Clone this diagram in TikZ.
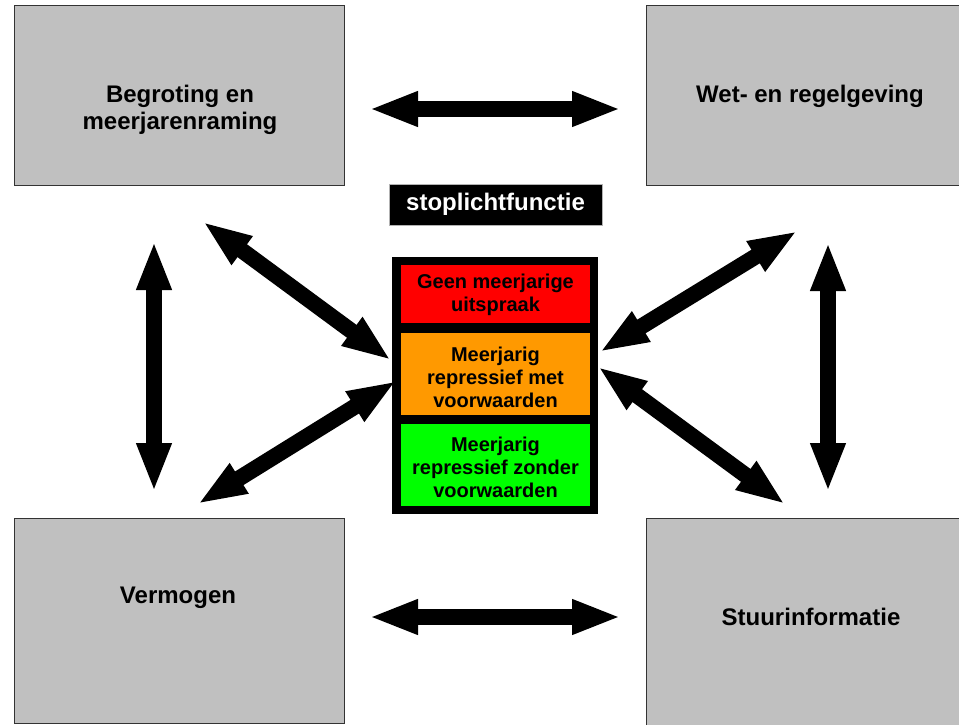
\documentclass[tikz,border=0pt]{standalone}
\usepackage{fontspec}
\setmainfont{Liberation Sans}
\usetikzlibrary{arrows.meta}
\definecolor{boxgray}{HTML}{C0C0C0}
\definecolor{lightred}{HTML}{FF0000}
\definecolor{lightorange}{HTML}{FF9900}
\definecolor{lightgreen}{HTML}{00FF00}
\begin{document}
\begin{tikzpicture}[x=1pt,y=-1pt,
  grbox/.style={draw=black!80, line width=1pt, fill=boxgray, inner sep=0pt, outer sep=0pt, minimum width=330pt},
  boxlabel/.style={font=\fontsize{24}{27.6}\selectfont\bfseries, align=center, text=black, inner sep=0pt},
  lamp/.style={inner sep=0pt, outer sep=0pt, minimum width=189pt},
  lamplabel/.style={font=\fontsize{20}{23}\selectfont\bfseries, align=center, text=black, inner sep=0pt},
  bigarrow/.style={line width=16pt, shorten <=-4pt, shorten >=-4pt,
    {Triangle[length=49pt,width=32pt]}-{Triangle[length=49pt,width=32pt]}}
]
\useasboundingbox (0,0) rectangle (959,725);
\fill[white] (0,0) rectangle (959,725);
\clip (0,0) rectangle (959,725);

% corner boxes
\node[grbox, minimum height=179pt] (tl) at (179,95.5) {};
\node[grbox, minimum height=179pt] (tr) at (811,95.5) {};
\node[grbox, minimum height=205pt] (bl) at (179,620.5) {};
\node[grbox, minimum height=215pt] (br) at (811,625.5) {};

\node[boxlabel] (tltext) at (180,110) {Begroting en\\meerjarenraming};
\node[boxlabel] (trtext) at (810,96) {Wet- en regelgeving};
\node[boxlabel] (bltext) at (178,598) {Vermogen};
\node[boxlabel] (brtext) at (811,617) {Stuurinformatie};

% title
\node[fill=black, draw=black!30, line width=1pt, minimum width=213pt, minimum height=41pt, inner sep=0pt,
      font=\fontsize{24}{27.6}\selectfont\bfseries, text=white] (title) at (495.5,204.5) {stoplichtfunctie};

% traffic light
\node[fill=black, minimum width=206pt, minimum height=257pt, inner sep=0pt, outer sep=0pt] (light) at (495,385.5) {};
\node[lamp, fill=lightred, minimum height=58pt] (red) at (495.5,294) {};
\node[lamp, fill=lightorange, minimum height=82pt] (orange) at (495.5,374) {};
\node[lamp, fill=lightgreen, minimum height=82pt] (green) at (495.5,465) {};
\node[lamplabel] (redtext) at (495.5,295) {Geen meerjarige\\uitspraak};
\node[lamplabel] (orangetext) at (495.5,377) {Meerjarig\\repressief met\\voorwaarden};
\node[lamplabel] (greentext) at (495.5,467) {Meerjarig\\repressief zonder\\voorwaarden};

% arrow end points
\coordinate (tha) at (373,109);
\coordinate (thb) at (617,109);
\coordinate (bha) at (373,617);
\coordinate (bhb) at (617,617);
\coordinate (lva) at (154,245);
\coordinate (lvb) at (154,488);
\coordinate (rva) at (828,246);
\coordinate (rvb) at (828,488);
\coordinate (ula) at (206,224);
\coordinate (ulb) at (388,358);
\coordinate (lla) at (201,502);
\coordinate (llb) at (393,383);
\coordinate (ura) at (794,233);
\coordinate (urb) at (603,350);
\coordinate (lra) at (782,502);
\coordinate (lrb) at (601,369);

\draw[bigarrow] (tha) -- (thb);
\draw[bigarrow] (bha) -- (bhb);
\draw[bigarrow] (lva) -- (lvb);
\draw[bigarrow] (rva) -- (rvb);
\draw[bigarrow] (ula) -- (ulb);
\draw[bigarrow] (lla) -- (llb);
\draw[bigarrow] (ura) -- (urb);
\draw[bigarrow] (lra) -- (lrb);
\end{tikzpicture}
\end{document}
